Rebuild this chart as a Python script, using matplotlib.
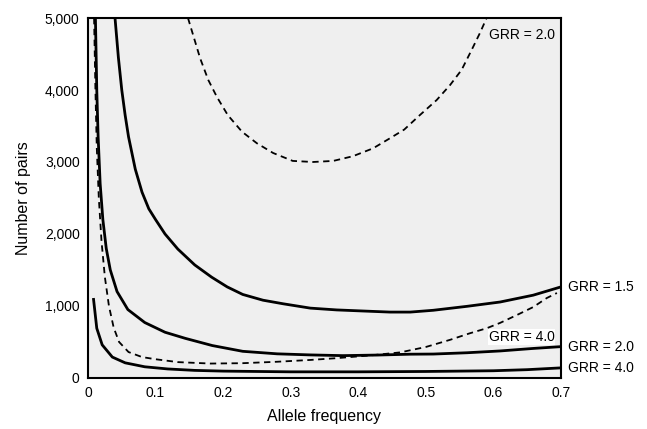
import matplotlib
matplotlib.use("Agg")
import matplotlib.pyplot as plt

plt.rcParams["font.family"] = ["Liberation Sans", "DejaVu Sans"]

# association (TDT), solid lines
tdt15_p = [0.040, 0.045, 0.050, 0.055, 0.060, 0.070, 0.080, 0.090, 0.100, 0.114, 0.133,
           0.158, 0.183, 0.206, 0.229, 0.259, 0.289, 0.329, 0.368, 0.407, 0.447, 0.477,
           0.511, 0.561, 0.610, 0.659, 0.700]
tdt15_n = [5000, 4450, 4000, 3650, 3350, 2900, 2580, 2350, 2200, 2000, 1790,
           1570, 1400, 1265, 1160, 1080, 1030, 970, 945, 930, 915, 915,
           940, 995, 1055, 1150, 1265]

tdt20_p = [0.011, 0.013, 0.015, 0.018, 0.022, 0.027, 0.033, 0.043, 0.059, 0.084, 0.114,
           0.144, 0.184, 0.229, 0.280, 0.329, 0.377, 0.428, 0.477, 0.511, 0.561, 0.610,
           0.659, 0.700]
tdt20_n = [5000, 4000, 3350, 2700, 2200, 1800, 1500, 1200, 950, 770, 635,
           550, 450, 370, 335, 320, 310, 318, 330, 332, 350, 375,
           410, 435]

tdt40_p = [0.008, 0.013, 0.021, 0.036, 0.055, 0.084, 0.118, 0.158, 0.200, 0.300, 0.400,
           0.500, 0.600, 0.650, 0.700]
tdt40_n = [1110, 690, 460, 290, 210, 155, 125, 105, 95, 85, 85,
           90, 100, 115, 140]

# linkage (sib pairs), dashed lines
asp20_p = [0.148, 0.166, 0.178, 0.191, 0.207, 0.228, 0.250, 0.274, 0.303, 0.333, 0.363,
           0.392, 0.422, 0.447, 0.468, 0.491, 0.516, 0.536, 0.553, 0.568, 0.580, 0.590]
asp20_n = [5000, 4440, 4140, 3900, 3650, 3420, 3260, 3125, 3015, 3000, 3015,
           3080, 3190, 3330, 3450, 3650, 3860, 4070, 4280, 4560, 4790, 5000]

asp40_p = [0.009, 0.011, 0.013, 0.016, 0.020, 0.025, 0.031, 0.038, 0.046, 0.060, 0.080,
           0.100, 0.133, 0.181, 0.229, 0.280, 0.329, 0.368, 0.420, 0.462, 0.500, 0.536,
           0.565, 0.590, 0.610, 0.635, 0.659, 0.679, 0.694]
asp40_n = [5000, 4000, 3200, 2500, 1900, 1400, 1000, 700, 500, 360, 290,
           260, 220, 200, 205, 225, 250, 275, 315, 355, 430, 530,
           620, 690, 765, 875, 985, 1110, 1180]

x_ticks = [0, 0.1, 0.2, 0.3, 0.4, 0.5, 0.6, 0.7]
x_labels = ["0", "0.1", "0.2", "0.3", "0.4", "0.5", "0.6", "0.7"]
y_ticks = [0, 1000, 2000, 3000, 4000, 5000]
y_labels = ["0", "1,000", "2,000", "3,000", "4,000", "5,000"]

fig = plt.figure(figsize=(6.47, 4.29), dpi=100)
ax = fig.add_axes([0.136, 0.119, 0.731, 0.839])
ax.set_facecolor("#efefef")

solid = dict(color="black", linewidth=2.0, solid_capstyle="butt")
dashed = dict(color="black", linewidth=1.3, linestyle=(0, (3.5, 2.5)))
ax.plot(tdt15_p, tdt15_n, **solid)
ax.plot(tdt20_p, tdt20_n, **solid)
ax.plot(tdt40_p, tdt40_n, **solid)
ax.plot(asp20_p, asp20_n, **dashed)
ax.plot(asp40_p, asp40_n, **dashed)

ax.set_xlim(0, 0.7)
ax.set_ylim(0, 5000)
ax.set_xticks(x_ticks)
ax.set_xticklabels(x_labels)
ax.set_yticks(y_ticks)
ax.set_yticklabels(y_labels)
ax.tick_params(length=0, labelsize=10, pad=6)

for side in ["left", "bottom", "top"]:
    ax.spines[side].set_linewidth(1.5)
ax.spines["right"].set_linewidth(1.5)
ax.spines["right"].set_linestyle((0, (1, 1)))

ax.set_xlabel("Allele frequency", fontsize=11.5, labelpad=6)
ax.set_ylabel("Number of pairs", fontsize=11.5, labelpad=10)

# labels at right edge
text_kw = dict(fontsize=10, va="center", ha="left", annotation_clip=False)
ax.annotate("GRR = 1.5", xy=(0.7, tdt15_n[-1]), xytext=(5, 0), textcoords="offset points", **text_kw)
ax.annotate("GRR = 2.0", xy=(0.7, tdt20_n[-1]), xytext=(5, 0), textcoords="offset points", **text_kw)
ax.annotate("GRR = 4.0", xy=(0.7, tdt40_n[-1]), xytext=(5, 0), textcoords="offset points", **text_kw)

# labels of dashed curves, inside the plot
ax.text(0.594, 4760, "GRR = 2.0", fontsize=10, va="center", ha="left")
ax.text(0.593, 570, "GRR = 4.0", fontsize=10, va="center", ha="left",
        bbox=dict(facecolor="white", edgecolor="none", pad=0.5))

fig.savefig("out.png", dpi=100)
